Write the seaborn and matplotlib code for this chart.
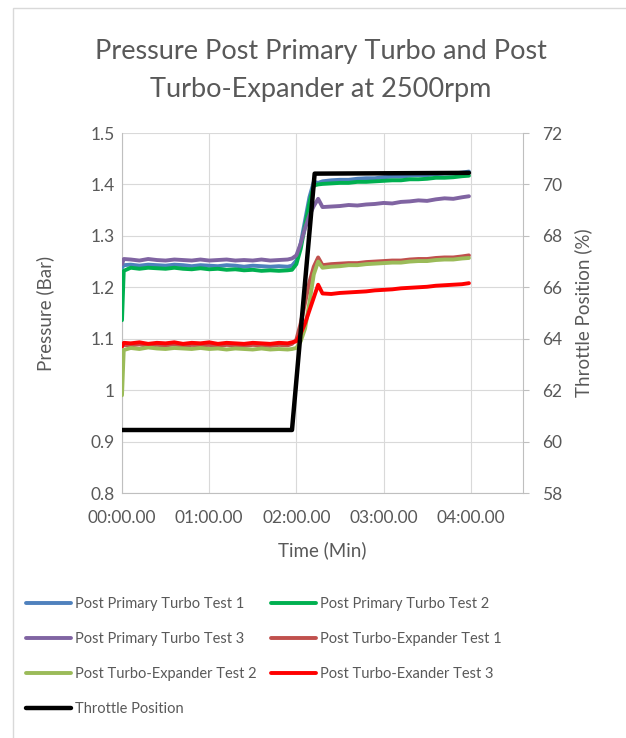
import matplotlib
matplotlib.use("Agg")
import matplotlib.pyplot as plt
import pandas as pd
import seaborn as sns
from matplotlib.patches import Rectangle
from matplotlib.ticker import FixedLocator, FixedFormatter

# ---------------- data (time in minutes) ----------------
TIME_MIN = [0.00, 0.02, 0.10, 0.20, 0.30, 0.40, 0.50, 0.60, 0.70, 0.80, 0.90, 1.00,
            1.10, 1.20, 1.30, 1.40, 1.50, 1.60, 1.70, 1.80, 1.90, 1.95, 2.00, 2.05,
            2.10, 2.15, 2.20, 2.25, 2.30, 2.40, 2.50, 2.60, 2.70, 2.80, 2.90, 3.00,
            3.10, 3.20, 3.30, 3.40, 3.50, 3.60, 3.70, 3.80, 3.90, 3.98]

PPT_TEST1 = [1.238, 1.243, 1.244, 1.242, 1.244, 1.243, 1.242, 1.244, 1.243, 1.241, 1.243, 1.242,
             1.241, 1.243, 1.242, 1.240, 1.242, 1.241, 1.240, 1.241, 1.240, 1.242, 1.252, 1.285,
             1.330, 1.375, 1.405, 1.403, 1.406, 1.408, 1.409, 1.409, 1.411, 1.412, 1.412, 1.414,
             1.415, 1.415, 1.417, 1.418, 1.418, 1.420, 1.421, 1.421, 1.423, 1.425]
PPT_TEST2 = [1.136, 1.232, 1.238, 1.236, 1.238, 1.237, 1.236, 1.238, 1.236, 1.235, 1.237, 1.235,
             1.236, 1.234, 1.235, 1.233, 1.234, 1.232, 1.233, 1.232, 1.233, 1.234, 1.245, 1.275,
             1.320, 1.365, 1.398, 1.400, 1.401, 1.402, 1.403, 1.403, 1.405, 1.405, 1.406, 1.407,
             1.408, 1.408, 1.410, 1.410, 1.411, 1.413, 1.413, 1.414, 1.416, 1.417]
PPT_TEST3 = [1.245, 1.255, 1.254, 1.252, 1.255, 1.253, 1.252, 1.254, 1.253, 1.252, 1.254, 1.252,
             1.253, 1.254, 1.252, 1.253, 1.252, 1.254, 1.252, 1.253, 1.254, 1.256, 1.262, 1.285,
             1.315, 1.340, 1.358, 1.372, 1.356, 1.357, 1.358, 1.360, 1.359, 1.361, 1.362, 1.364,
             1.363, 1.366, 1.367, 1.369, 1.368, 1.371, 1.373, 1.372, 1.375, 1.377]
PTE_TEST1 = [1.085, 1.088, 1.087, 1.089, 1.086, 1.088, 1.087, 1.089, 1.086, 1.088, 1.087, 1.088,
             1.086, 1.088, 1.087, 1.086, 1.088, 1.087, 1.086, 1.088, 1.087, 1.090, 1.098, 1.130,
             1.170, 1.210, 1.240, 1.258, 1.243, 1.245, 1.246, 1.247, 1.247, 1.249, 1.250, 1.251,
             1.252, 1.252, 1.254, 1.255, 1.255, 1.257, 1.258, 1.258, 1.260, 1.262]
PTE_TEST2 = [0.990, 1.078, 1.082, 1.080, 1.083, 1.081, 1.080, 1.082, 1.081, 1.080, 1.082, 1.080,
             1.081, 1.079, 1.081, 1.080, 1.079, 1.081, 1.079, 1.080, 1.079, 1.080, 1.082, 1.095,
             1.120, 1.170, 1.225, 1.250, 1.238, 1.240, 1.241, 1.243, 1.243, 1.245, 1.246, 1.247,
             1.248, 1.248, 1.250, 1.251, 1.251, 1.253, 1.254, 1.254, 1.256, 1.257]
PTE_TEST3 = [1.085, 1.092, 1.091, 1.093, 1.090, 1.092, 1.091, 1.093, 1.090, 1.092, 1.091, 1.093,
             1.090, 1.092, 1.091, 1.090, 1.092, 1.091, 1.090, 1.092, 1.091, 1.093, 1.095, 1.110,
             1.130, 1.155, 1.180, 1.205, 1.188, 1.187, 1.189, 1.190, 1.191, 1.192, 1.194, 1.195,
             1.196, 1.198, 1.199, 1.200, 1.201, 1.203, 1.204, 1.205, 1.206, 1.208]

THR_TIME = [0.00, 1.95, 2.21, 3.98]
THROTTLE = [60.45, 60.45, 70.42, 70.45]

SERIES_NAMES = ["Post Primary Turbo Test 1", "Post Primary Turbo Test 2",
                "Post Primary Turbo Test 3", "Post Turbo-Expander Test 1",
                "Post Turbo-Expander Test 2", "Post Turbo-Exander Test 3"]
THR_NAME = "Throttle Position"
X_TICKS = [0, 1, 2, 3, 4]
X_TICK_LABELS = ["00:00.00", "01:00.00", "02:00.00", "03:00.00", "04:00.00"]
Y_LEFT_TICKS = [0.8, 0.9, 1.0, 1.1, 1.2, 1.3, 1.4, 1.5]
Y_LEFT_LABELS = ["0.8", "0.9", "1", "1.1", "1.2", "1.3", "1.4", "1.5"]
Y_RIGHT_TICKS = [58, 60, 62, 64, 66, 68, 70, 72]

COLORS = ["#4F81BD", "#00B050", "#8064A2", "#C0504D", "#9BBB59", "#FF0000"]
THR_COLOR = "#000000"
TXT = "#595959"
GRID = "#D9D9D9"
SPINE = "#BFBFBF"

# ---------------- figure ----------------
sns.set_theme(style="white")
plt.rcParams["font.family"] = ["Lato", "DejaVu Sans"]

W, H = 626, 738
fig = plt.figure(figsize=(W / 100, H / 100), dpi=100)
fig.patch.set_facecolor("white")

# chart border (outer chart area frame)
fig.patches.append(Rectangle((13 / W, -0.2), 1.2, 1.2 - 8 / H, transform=fig.transFigure,
                             fill=False, edgecolor=GRID, lw=1.0, clip_on=False))

ax = fig.add_axes([122 / W, 245 / H, 401 / W, 360 / H])
df = pd.DataFrame({"t": TIME_MIN})
for name, vals in zip(SERIES_NAMES, [PPT_TEST1, PPT_TEST2, PPT_TEST3, PTE_TEST1, PTE_TEST2, PTE_TEST3]):
    df[name] = vals

handles = {}
for name, col in zip(SERIES_NAMES, COLORS):
    sns.lineplot(data=df, x="t", y=name, ax=ax, color=col, lw=2.8, sort=False,
                 estimator=None, legend=False, zorder=3)
    handles[name] = ax.lines[-1]

ax.set_xlim(0, 4.6)
ax.set_ylim(0.8, 1.5)
ax.xaxis.set_major_locator(FixedLocator(X_TICKS))
ax.xaxis.set_major_formatter(FixedFormatter(X_TICK_LABELS))
ax.set_yticks(Y_LEFT_TICKS)
ax.set_yticklabels(Y_LEFT_LABELS)
ax.grid(True, color=GRID, lw=0.8)
ax.set_axisbelow(True)
for s in ["top", "right"]:
    ax.spines[s].set_visible(False)
for s in ["left", "bottom"]:
    ax.spines[s].set_color(SPINE)
    ax.spines[s].set_linewidth(0.8)
ax.tick_params(axis="both", length=0, colors=TXT, labelsize=12.5)
ax.tick_params(axis="x", pad=12)
ax.tick_params(axis="y", pad=5)
ax.set_xlabel("")
ax.set_ylabel("")

ax2 = ax.twinx()
thr_df = pd.DataFrame({"t": THR_TIME, THR_NAME: THROTTLE})
sns.lineplot(data=thr_df, x="t", y=THR_NAME, ax=ax2, color=THR_COLOR, lw=3.2, sort=False,
             estimator=None, legend=False, zorder=4)
handles[THR_NAME] = ax2.lines[-1]
ax2.set_ylim(58, 72)
ax2.set_yticks(Y_RIGHT_TICKS)
ax2.set_xlim(0, 4.6)
for s in ["top", "left", "bottom"]:
    ax2.spines[s].set_visible(False)
ax2.spines["right"].set_color(SPINE)
ax2.spines["right"].set_linewidth(0.8)
ax2.tick_params(axis="y", length=4.5, width=0.8, color=SPINE, labelcolor=TXT, labelsize=12.5, pad=9)
ax2.grid(False)
ax2.set_ylabel("")
ax2.set_xlabel("")

# titles & axis labels
fig.text(321 / W, 1 - 52 / H, "Pressure Post Primary Turbo and Post", ha="center", va="center",
         fontsize=19.5, color=TXT)
fig.text(321 / W, 1 - 89 / H, "Turbo-Expander at 2500rpm", ha="center", va="center",
         fontsize=19.5, color=TXT)
fig.text(322 / W, 1 - 550 / H, "Time (Min)", ha="center", va="center", fontsize=13.5, color=TXT)
fig.text(45 / W, 1 - 313 / H, "Pressure (Bar)", ha="center", va="center", rotation=90,
         fontsize=13.5, color=TXT)
fig.text(583 / W, 1 - 313 / H, "Throttle Position (%)", ha="center", va="center", rotation=90,
         fontsize=13.5, color=TXT)

# legend in two columns, row-wise order like the original
col1 = [SERIES_NAMES[0], SERIES_NAMES[2], SERIES_NAMES[4], THR_NAME]
col2 = [SERIES_NAMES[1], SERIES_NAMES[3], SERIES_NAMES[5]]
common = dict(loc="upper left", frameon=False, fontsize=10.5, handlelength=3.1,
              handletextpad=0.25, labelspacing=1.45, borderpad=0, borderaxespad=0,
              labelcolor=TXT)
leg1 = fig.legend([handles[n] for n in col1], col1, bbox_to_anchor=(26 / W, 1 - 597 / H), **common)
leg2 = fig.legend([handles[n] for n in col2], col2, bbox_to_anchor=(271 / W, 1 - 597 / H), **common)

fig.savefig("out.png", dpi=100, facecolor="white")
